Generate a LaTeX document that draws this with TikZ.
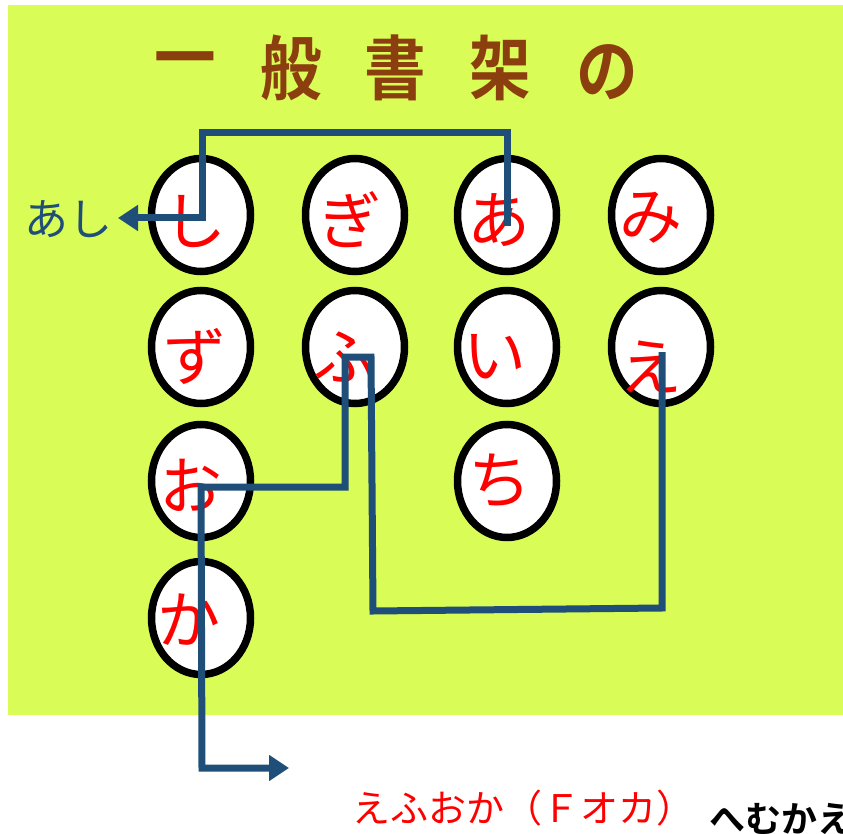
\documentclass[tikz,border=0pt]{standalone}
\usepackage{fontspec}
\setmainfont{Noto Sans CJK JP}
\newfontfamily\jpfont{Noto Sans CJK JP}
\newfontfamily\jpbold{Noto Sans CJK JP Bold}
\usetikzlibrary{shapes.geometric,arrows.meta}
\definecolor{bggreen}{RGB}{218,252,86}
\definecolor{pathblue}{RGB}{31,78,121}
\definecolor{titlebrown}{RGB}{139,62,14}
\begin{document}
\begin{tikzpicture}[x=1pt,y=-1pt,
  shelf/.style={ellipse, draw=black, line width=7.5pt, fill=white,
    minimum width=99pt, minimum height=113pt, inner sep=0pt},
  kana/.style={text=red, font=\jpfont\fontsize{63}{63}\selectfont, inner sep=0pt},
  titlechar/.style={text=titlebrown, font=\jpbold\fontsize{70}{70}\selectfont, inner sep=0pt},
  route/.style={draw=pathblue, line width=7pt, line join=miter},
  tip/.style={-{Triangle[length=20pt,width=25pt]}}
]
\useasboundingbox (0,0) rectangle (843,834);
\fill[bggreen] (8,5) rectangle (843,715);

% title
\node[titlechar] (t1) at (185,68) {\scalebox{0.88}[1]{一}};
\node[titlechar] (t2) at (291,68) {\scalebox{0.88}[1]{般}};
\node[titlechar] (t3) at (395,68) {\scalebox{0.88}[1]{書}};
\node[titlechar] (t4) at (500,68) {\scalebox{0.88}[1]{架}};
\node[titlechar] (t5) at (607,72) {\scalebox{0.88}[1]{の}};

% shelves
\node[shelf] (c11) at (201,215) {};
\node[shelf] (c12) at (355,215) {};
\node[shelf] (c13) at (507,215) {};
\node[shelf] (c14) at (661,215) {};
\node[shelf] (c21) at (201,347) {};
\node[shelf] (c22) at (355,347) {};
\node[shelf] (c23) at (507,347) {};
\node[shelf] (c24) at (661,347) {};
\node[shelf] (c31) at (201,481) {};
\node[shelf] (c33) at (507,481) {};
\node[shelf] (c41) at (201,618) {};

\node[kana] (k11) at ([shift={(-6,7)}]c11) {し};
\node[kana] (k12) at ([shift={(-5,5)}]c12) {ぎ};
\node[kana] (k13) at ([shift={(-8,5)}]c13) {あ};
\node[kana] (k14) at ([shift={(-10,3)}]c14) {み};
\node[kana] (k21) at ([shift={(-6,9)}]c21) {ず};
\node[kana] (k22) at ([shift={(-10,10)}]c22) {ふ};
\node[kana] (k23) at ([shift={(-12,10)}]c23) {い};
\node[kana] (k24) at ([shift={(-10,20)}]c24) {え};
\node[kana] (k31) at ([shift={(-10,4)}]c31) {お};
\node[kana] (k33) at ([shift={(-7,0)}]c33) {ち};
\node[kana] (k41) at ([shift={(-12,2)}]c41) {か};

% labels
\node[text=pathblue, font=\jpfont\fontsize{44}{44}\selectfont, inner sep=0pt] (ashi) at (68,219) {あし};
\node[text=red, font=\jpfont\fontsize{38}{38}\selectfont, inner sep=0pt, anchor=west] (dest) at (352,808) {えふおか（Ｆオカ）};
\node[text=black, font=\jpbold\fontsize{36}{36}\selectfont, inner sep=0pt, anchor=west] (dest2) at (709,819) {へむかえ};

% routes
\coordinate (r1a) at (507,226);
\coordinate (r1b) at (507,133);
\coordinate (r1c) at (202,133);
\coordinate (r1d) at (202,218);
\coordinate (r1e) at (118,218);
\draw[route,tip] (r1a) -- (r1b) -- (r1c) -- (r1d) -- (r1e);

\coordinate (r2a) at (662,352);
\coordinate (r2b) at (662,608);
\coordinate (r2c) at (373,611);
\coordinate (r2d) at (371,357);
\coordinate (r2e) at (345,357);
\coordinate (r2f) at (345,487);
\coordinate (r2g) at (201,487);
\coordinate (r2h) at (202,768);
\coordinate (r2i) at (289,768);
\draw[route,tip] (r2a) -- (r2b) -- (r2c) -- (r2d) -- (r2e) -- (r2f) -- (r2g) -- (r2h) -- (r2i);
\end{tikzpicture}
\end{document}
